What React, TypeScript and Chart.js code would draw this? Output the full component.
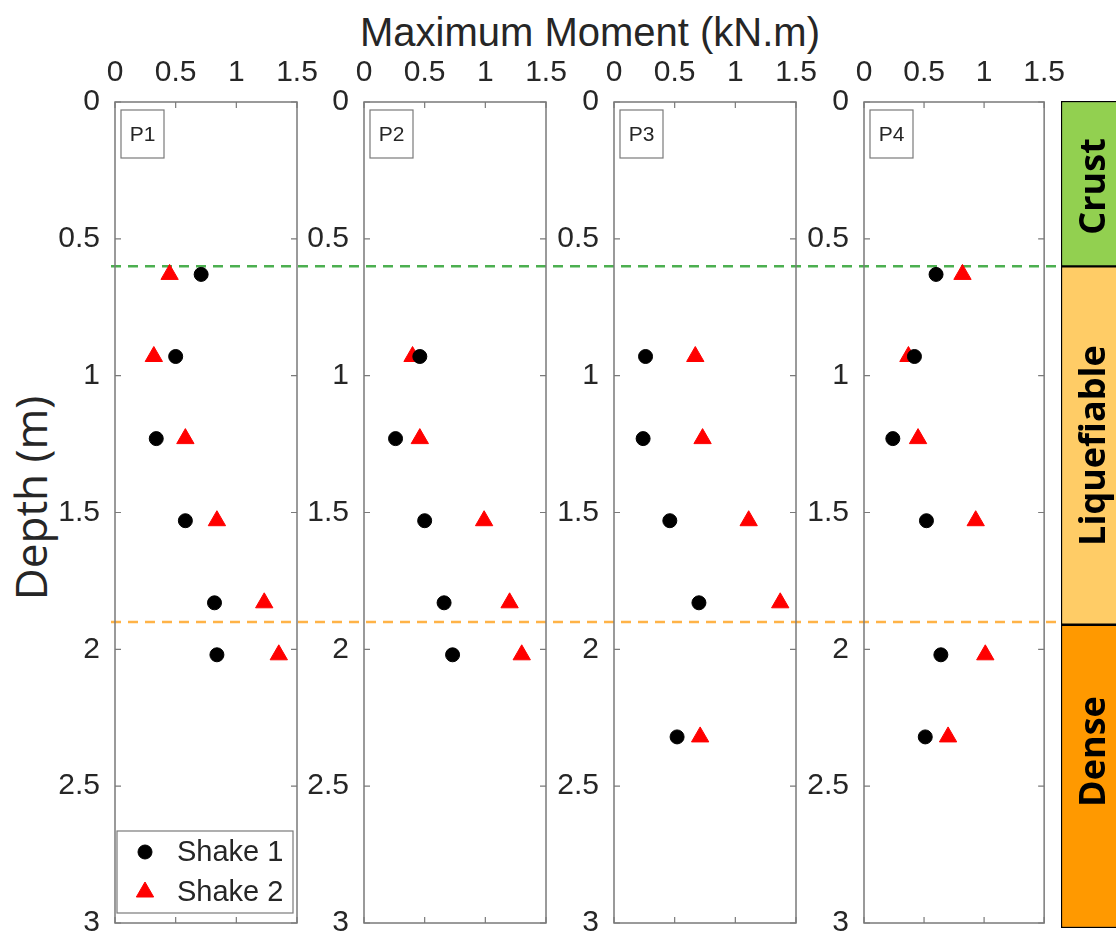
import React, { useEffect, useRef } from 'react';
import { Chart, registerables } from 'chart.js';

Chart.register(...registerables);

// ---------------- data ----------------
const depthsP1 = [0.63, 0.93, 1.23, 1.53, 1.83, 2.02];
const shake1P1 = [0.71, 0.5, 0.34, 0.58, 0.82, 0.84];
const shake2P1 = [0.45, 0.32, 0.58, 0.84, 1.23, 1.35];

const depthsP2 = [0.93, 1.23, 1.53, 1.83, 2.02];
const shake1P2 = [0.46, 0.26, 0.5, 0.66, 0.73];
const shake2P2 = [0.4, 0.46, 0.99, 1.2, 1.3];

const depthsP3 = [0.93, 1.23, 1.53, 1.83, 2.32];
const shake1P3 = [0.26, 0.24, 0.46, 0.7, 0.52];
const shake2P3 = [0.67, 0.73, 1.11, 1.37, 0.71];

const depthsP4 = [0.63, 0.93, 1.23, 1.53, 2.02, 2.32];
const shake1P4 = [0.6, 0.42, 0.24, 0.52, 0.64, 0.51];
const shake2P4 = [0.82, 0.37, 0.45, 0.93, 1.01, 0.7];

const panelNames = ['P1', 'P2', 'P3', 'P4'];
const seriesNames = ['Shake 1', 'Shake 2'];
const momentTicks = [0, 0.5, 1, 1.5];
const depthTicks = [0, 0.5, 1, 1.5, 2, 2.5, 3];

const layerNames = ['Crust', 'Liquefiable', 'Dense'];
const layerTops = [0, 0.6, 1.9];
const layerBottoms = [0.6, 1.9, 3];
const layerLabelDepths = [0.31, 1.25, 2.36];
const boundaryDepths = [0.6, 1.9];

// ---------------- styles / layout ----------------
const W = 1116;
const H = 940;
const CANVAS_H = 956; // chart area bottom lands at ~923 px
const PLOT_TOP = 102;
const PANEL_W = 182;
const PANEL_LEFTS = [115, 364, 614, 864];
const YW = 72;
const TICK_FONT = 'Liberation Sans, Arial, Helvetica, sans-serif';
const TICK_SIZE = 30;
const TEXT_COLOR = '#262626';
const FRAME_COLOR = '#7a7a7a';
const SHAKE_COLORS = ['#000000', '#ff0000'];
const SHAKE_STYLES = ['circle', 'triangle'];
const SHAKE_RADII = [7, 10];
const LAYER_COLORS = ['#92D050', '#FFCC66', '#FF9900'];
const BOUNDARY_COLORS = ['#4CAF50', '#FFB347'];
const DASH = [10, 7];
const DASH_START = 111;

const panelDepths = [depthsP1, depthsP2, depthsP3, depthsP4];
const panelShake1 = [shake1P1, shake1P2, shake1P3, shake1P4];
const panelShake2 = [shake2P1, shake2P2, shake2P3, shake2P4];

function drawMarker(ctx: CanvasRenderingContext2D, style: string, x: number, y: number, r: number, color: string) {
  ctx.save();
  ctx.fillStyle = color;
  ctx.strokeStyle = color;
  ctx.lineWidth = 1;
  ctx.beginPath();
  if (style === 'circle') {
    ctx.arc(x, y, r, 0, Math.PI * 2);
  } else {
    ctx.moveTo(x, y - r);
    ctx.lineTo(x + r * 0.866, y + r / 2);
    ctx.lineTo(x - r * 0.866, y + r / 2);
    ctx.closePath();
  }
  ctx.fill();
  ctx.stroke();
  ctx.restore();
}

const panelDecor = {
  id: 'panelDecor',
  beforeDatasetsDraw(chart: any, _args: any, opts: any) {
    const ctx = chart.ctx as CanvasRenderingContext2D;
    const ca = chart.chartArea;
    const ys = chart.scales.y;
    const x0 = opts.first ? DASH_START - opts.canvasLeft : ca.left;
    const x1 = chart.width;
    boundaryDepths.forEach((d, i) => {
      const y = ys.getPixelForValue(d);
      ctx.save();
      ctx.strokeStyle = BOUNDARY_COLORS[i];
      ctx.lineWidth = 2.5;
      ctx.setLineDash(DASH);
      const period = DASH[0] + DASH[1];
      ctx.lineDashOffset = ((opts.canvasLeft + x0 - DASH_START) % period + period) % period;
      ctx.beginPath();
      ctx.moveTo(x0, y);
      ctx.lineTo(x1, y);
      ctx.stroke();
      ctx.restore();
    });
  },
  afterDatasetsDraw(chart: any, _args: any, opts: any) {
    const ctx = chart.ctx as CanvasRenderingContext2D;
    const ca = chart.chartArea;
    const xs = chart.scales.x;
    const ys = chart.scales.y;
    ctx.save();
    // frame
    ctx.strokeStyle = FRAME_COLOR;
    ctx.lineWidth = 1.5;
    ctx.strokeRect(ca.left, ca.top, ca.right - ca.left, ca.bottom - ca.top);
    // inward ticks
    ctx.lineWidth = 1.2;
    ctx.beginPath();
    momentTicks.forEach((v) => {
      const px = xs.getPixelForValue(v);
      ctx.moveTo(px, ca.top);
      ctx.lineTo(px, ca.top + 6);
      ctx.moveTo(px, ca.bottom);
      ctx.lineTo(px, ca.bottom - 6);
    });
    depthTicks.forEach((v) => {
      const py = ys.getPixelForValue(v);
      ctx.moveTo(ca.left, py);
      ctx.lineTo(ca.left + 6, py);
      ctx.moveTo(ca.right, py);
      ctx.lineTo(ca.right - 6, py);
    });
    ctx.stroke();
    // panel name box
    ctx.fillStyle = '#ffffff';
    ctx.fillRect(ca.left + 6, ca.top + 8, 43, 48);
    ctx.strokeStyle = FRAME_COLOR;
    ctx.lineWidth = 1.2;
    ctx.strokeRect(ca.left + 6, ca.top + 8, 43, 48);
    ctx.fillStyle = TEXT_COLOR;
    ctx.font = `21px ${TICK_FONT}`;
    ctx.textAlign = 'center';
    ctx.textBaseline = 'middle';
    ctx.fillText(opts.name, ca.left + 27.5, ca.top + 33);
    // legend
    if (opts.legend) {
      const lx = ca.left + 2;
      const ly = ca.bottom - 92;
      ctx.fillStyle = '#ffffff';
      ctx.fillRect(lx, ly, 176, 82);
      ctx.strokeStyle = FRAME_COLOR;
      ctx.lineWidth = 1.2;
      ctx.strokeRect(lx, ly, 176, 82);
      chart.data.datasets.forEach((ds: any, i: number) => {
        const my = ly + 21 + i * 40;
        drawMarker(ctx, ds.pointStyle, lx + 28, my, ds.pointRadius, ds.backgroundColor);
        ctx.fillStyle = TEXT_COLOR;
        ctx.font = `29px ${TICK_FONT}`;
        ctx.textAlign = 'left';
        ctx.textBaseline = 'middle';
        ctx.fillText(ds.label, lx + 60, my + 1);
      });
    }
    ctx.restore();
  },
};

function PanelChart({ idx }: { idx: number }) {
  const ref = useRef<HTMLCanvasElement>(null);
  const left = PANEL_LEFTS[idx] - YW;
  const right = idx < 3 ? PANEL_LEFTS[idx + 1] : PANEL_LEFTS[3] + PANEL_W + 30;
  const width = right - left;
  useEffect(() => {
    const depths = panelDepths[idx];
    const s1 = panelShake1[idx];
    const s2 = panelShake2[idx];
    const chart = new Chart(ref.current as HTMLCanvasElement, {
      type: 'scatter',
      data: {
        datasets: [s1, s2].map((vals, si) => ({
          label: seriesNames[si],
          data: depths.map((d, i) => ({ x: vals[i], y: d })),
          pointStyle: SHAKE_STYLES[si],
          pointRadius: SHAKE_RADII[si],
          pointHoverRadius: SHAKE_RADII[si],
          backgroundColor: SHAKE_COLORS[si],
          borderColor: SHAKE_COLORS[si],
          borderWidth: 1,
          showLine: false,
        })),
      },
      options: {
        responsive: false,
        animation: false,
        devicePixelRatio: 1,
        events: [],
        layout: {
          padding: { left: 0, right: width - YW - PANEL_W, top: 0, bottom: 0 },
        },
        scales: {
          x: {
            type: 'linear',
            position: 'top',
            min: 0,
            max: 1.5,
            afterBuildTicks: (s: any) => {
              s.ticks = momentTicks.map((v) => ({ value: v }));
            },
            ticks: {
              font: { family: TICK_FONT, size: TICK_SIZE },
              color: TEXT_COLOR,
              padding: 11,
              maxRotation: 0,
              autoSkip: false,
              callback: (v: any) => String(v),
            },
            grid: { display: false, drawTicks: false },
            border: { display: false },
            afterFit: (s: any) => {
              s.height = PLOT_TOP;
            },
          },
          y: {
            type: 'linear',
            position: 'left',
            reverse: true,
            min: 0,
            max: 3,
            afterBuildTicks: (s: any) => {
              s.ticks = depthTicks.map((v) => ({ value: v }));
            },
            ticks: {
              font: { family: TICK_FONT, size: TICK_SIZE },
              color: TEXT_COLOR,
              padding: 15,
              autoSkip: false,
              callback: (v: any) => String(v),
            },
            grid: { display: false, drawTicks: false },
            border: { display: false },
            afterFit: (s: any) => {
              s.width = YW;
            },
          },
        },
        plugins: {
          legend: { display: false },
          tooltip: { enabled: false },
          panelDecor: { name: panelNames[idx], first: idx === 0, legend: idx === 0, canvasLeft: left },
        } as any,
      },
      plugins: [panelDecor],
    } as any);
    return () => chart.destroy();
  }, []);
  return (
    <canvas
      ref={ref}
      width={width}
      height={CANVAS_H}
      style={{ position: 'absolute', left, top: 0, width, height: CANVAS_H }}
    />
  );
}

const layerText = {
  id: 'layerText',
  afterDatasetsDraw(chart: any) {
    const ctx = chart.ctx as CanvasRenderingContext2D;
    const ys = chart.scales.y;
    ctx.save();
    chart.data.datasets.forEach((ds: any, i: number) => {
      const bar = chart.getDatasetMeta(i).data[0];
      const cy = ys.getPixelForValue(layerLabelDepths[i]);
      ctx.save();
      ctx.translate(bar.x, cy);
      ctx.rotate(-Math.PI / 2);
      ctx.fillStyle = '#000000';
      ctx.font = `bold 36px "Open Sans", "Noto Sans", sans-serif`;
      ctx.textAlign = 'center';
      ctx.textBaseline = 'middle';
      ctx.fillText(ds.label, 0, 0);
      ctx.restore();
    });
    ctx.restore();
  },
};

function LayerBar() {
  const ref = useRef<HTMLCanvasElement>(null);
  const left = 1061;
  const width = 68;
  useEffect(() => {
    const chart = new Chart(ref.current as HTMLCanvasElement, {
      type: 'bar',
      data: {
        labels: ['layers'],
        datasets: layerNames.map((n, i) => ({
          label: n,
          data: [[layerTops[i], layerBottoms[i]]],
          backgroundColor: LAYER_COLORS[i],
          borderColor: '#000000',
          borderWidth: 1.5,
          borderSkipped: false,
          barPercentage: 1,
          categoryPercentage: 1,
        })),
      },
      options: {
        responsive: false,
        animation: false,
        devicePixelRatio: 1,
        events: [],
        layout: { padding: { left: 0, right: 0, top: 101, bottom: H - 928 } },
        scales: {
          x: { display: false, stacked: true },
          y: { display: false, reverse: true, min: 0, max: 3 },
        },
        plugins: { legend: { display: false }, tooltip: { enabled: false } },
      },
      plugins: [layerText],
    } as any);
    return () => chart.destroy();
  }, []);
  return (
    <canvas
      ref={ref}
      width={width}
      height={H}
      style={{ position: 'absolute', left, top: 0, width, height: H }}
    />
  );
}

export default function App() {
  return (
    <div
      style={{
        position: 'absolute',
        left: 0,
        top: 0,
        width: W,
        height: H,
        overflow: 'hidden',
        background: '#ffffff',
      }}
    >
      <div
        style={{
          position: 'absolute',
          left: 0,
          width: 1180,
          top: 9,
          textAlign: 'center',
          fontFamily: TICK_FONT,
          fontSize: 40,
          lineHeight: '46px',
          color: TEXT_COLOR,
          whiteSpace: 'nowrap',
        }}
      >
        Maximum Moment (kN.m)
      </div>
      <div
        style={{
          position: 'absolute',
          left: 30,
          top: 498,
          transform: 'translate(-50%, -50%) rotate(-90deg)',
          fontFamily: '"Open Sans", "Noto Sans", sans-serif',
          fontSize: 44,
          lineHeight: '48px',
          color: TEXT_COLOR,
          whiteSpace: 'nowrap',
        }}
      >
        Depth (m)
      </div>
      {[0, 1, 2, 3].map((i) => (
        <PanelChart key={i} idx={i} />
      ))}
      <LayerBar />
    </div>
  );
}
